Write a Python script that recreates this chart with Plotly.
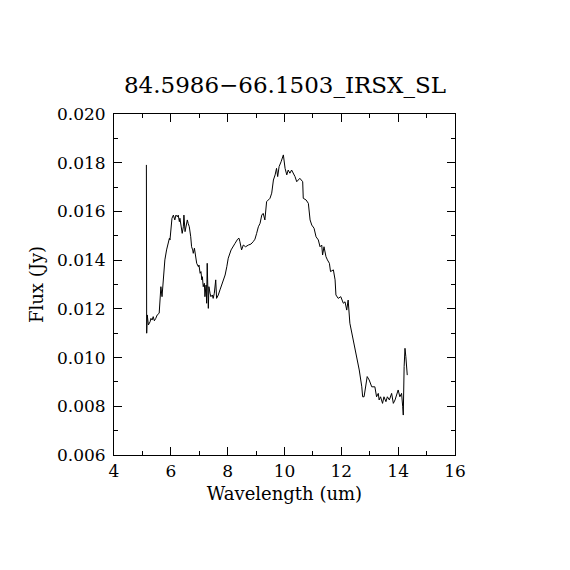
import plotly.graph_objects as go

# IRS SL spectrum
wavelength = [
    5.14, 5.15, 5.17, 5.21, 5.27, 5.30, 5.34, 5.38, 5.42, 5.47,
    5.52, 5.59, 5.62, 5.65, 5.69, 5.71, 5.76, 5.79, 5.85, 5.91,
    5.95, 5.97, 6.01, 6.04, 6.09, 6.14, 6.18, 6.23, 6.26, 6.30,
    6.32, 6.37, 6.40, 6.44, 6.46, 6.50, 6.53, 6.58, 6.61, 6.65,
    6.70, 6.73, 6.77, 6.79, 6.83, 6.86, 6.91, 6.97, 6.99, 7.03,
    7.06, 7.09, 7.11, 7.14, 7.18, 7.20, 7.24, 7.26, 7.28, 7.32,
    7.34, 7.38, 7.41, 7.46, 7.49, 7.53, 7.58, 7.61, 7.67, 7.73,
    7.81, 7.91, 7.97, 8.02, 8.12, 8.20, 8.26, 8.35, 8.40, 8.43,
    8.49, 8.55, 8.63, 8.73, 8.82, 8.90, 8.96, 9.02, 9.08, 9.14,
    9.20, 9.25, 9.31, 9.37, 9.43, 9.49, 9.55, 9.61, 9.67, 9.72,
    9.76, 9.81, 9.88, 9.92, 9.96, 10.02, 10.08, 10.13, 10.19, 10.25,
    10.31, 10.37, 10.43, 10.54, 10.64, 10.66, 10.76, 10.84, 10.90, 10.96,
    11.04, 11.11, 11.19, 11.25, 11.31, 11.34, 11.39, 11.46, 11.51, 11.58,
    11.62, 11.72, 11.78, 11.81, 11.89, 11.98, 12.07, 12.13, 12.19, 12.24,
    12.30, 12.40, 12.48, 12.56, 12.63, 12.72, 12.75, 12.80, 12.87, 12.91,
    12.98, 13.07, 13.18, 13.24, 13.30, 13.33, 13.38, 13.45, 13.50, 13.57,
    13.62, 13.69, 13.77, 13.83, 13.89, 13.95, 14.00, 14.06, 14.12, 14.16,
    14.18, 14.21, 14.24, 14.27, 14.32,
]
flux = [
    0.01791, 0.01100, 0.01175, 0.01134, 0.01147, 0.01161, 0.01154, 0.01168, 0.01151, 0.01161,
    0.01175, 0.01182, 0.01236, 0.01291, 0.01250, 0.01278, 0.01332, 0.01401, 0.01442, 0.01469,
    0.01490, 0.01483, 0.01537, 0.01572, 0.01585, 0.01565, 0.01585, 0.01578, 0.01585, 0.01558,
    0.01572, 0.01524, 0.01510, 0.01537, 0.01585, 0.01517, 0.01537, 0.01565, 0.01551, 0.01537,
    0.01496, 0.01455, 0.01442, 0.01428, 0.01449, 0.01421, 0.01387, 0.01373, 0.01380, 0.01346,
    0.01353, 0.01319, 0.01332, 0.01291, 0.01305, 0.01250, 0.01298, 0.01223, 0.01387, 0.01202,
    0.01291, 0.01264, 0.01250, 0.01257, 0.01243, 0.01264, 0.01319, 0.01243, 0.01257, 0.01278,
    0.01305, 0.01339, 0.01373, 0.01408, 0.01442, 0.01455, 0.01469, 0.01486, 0.01490, 0.01476,
    0.01442, 0.01462, 0.01455, 0.01462, 0.01466, 0.01476, 0.01486, 0.01510, 0.01537, 0.01551,
    0.01585, 0.01592, 0.01565, 0.01640, 0.01647, 0.01654, 0.01675, 0.01729, 0.01750, 0.01777,
    0.01743, 0.01784, 0.01804, 0.01818, 0.01832, 0.01777, 0.01750, 0.01770, 0.01757, 0.01770,
    0.01757, 0.01743, 0.01722, 0.01736, 0.01722, 0.01654, 0.01647, 0.01633, 0.01565, 0.01544,
    0.01531, 0.01496, 0.01483, 0.01455, 0.01462, 0.01421, 0.01455, 0.01414, 0.01401, 0.01387,
    0.01353, 0.01360, 0.01319, 0.01257, 0.01243, 0.01250, 0.01223, 0.01229, 0.01195, 0.01236,
    0.01141, 0.01086, 0.01031, 0.00990, 0.00949, 0.00880, 0.00839, 0.00839, 0.00894, 0.00922,
    0.00908, 0.00880, 0.00880, 0.00839, 0.00853, 0.00826, 0.00839, 0.00812, 0.00839, 0.00819,
    0.00839, 0.00826, 0.00853, 0.00812, 0.00826, 0.00853, 0.00867, 0.00839, 0.00853, 0.00798,
    0.00764, 0.00963, 0.01038, 0.01004, 0.00928,
]

x_ticks = [4, 6, 8, 10, 12, 14, 16]
y_ticks = [0.006, 0.008, 0.010, 0.012, 0.014, 0.016, 0.018, 0.020]

font_name = "DejaVu Serif"

fig = go.Figure()
fig.add_trace(go.Scatter(x=wavelength, y=flux, mode="lines",
                         line=dict(color="black", width=1), showlegend=False))

axis_common = dict(showline=True, linecolor="black", linewidth=1, mirror="allticks",
                   ticks="inside", ticklen=8, tickcolor="black", tickwidth=1,
                   showgrid=False, zeroline=False,
                   tickfont=dict(family=font_name, size=17, color="black"))

fig.update_xaxes(range=[4, 16], tickvals=x_ticks, ticktext=[str(v) for v in x_ticks],
                 minor=dict(ticks="inside", ticklen=4, dtick=1, tickcolor="black"),
                 ticklabelstandoff=1,
                 title=dict(text="Wavelength (um)", standoff=6,
                            font=dict(family=font_name, size=18, color="black")),
                 **axis_common)
fig.update_yaxes(range=[0.006, 0.020], tickvals=y_ticks,
                 ticktext=["%.3f" % v for v in y_ticks],
                 minor=dict(ticks="inside", ticklen=4, dtick=0.001, tickcolor="black"),
                 ticklabelstandoff=4,
                 title=dict(text="Flux (Jy)", standoff=8,
                            font=dict(family=font_name, size=18, color="black")),
                 **axis_common)

# the page body adds an 8px offset, so margins are shifted to compensate
fig.update_layout(
    width=570, height=570,
    margin=dict(l=106, r=123, t=106, b=123),
    paper_bgcolor="white", plot_bgcolor="white",
    title=dict(text="84.5986\u221266.1503_IRSX_SL", x=(285 - 8) / 570, xanchor="center",
               y=1 - 77 / 570, yanchor="middle",
               font=dict(family=font_name, size=23, color="black")),
)

fig.write_html("out.html")
